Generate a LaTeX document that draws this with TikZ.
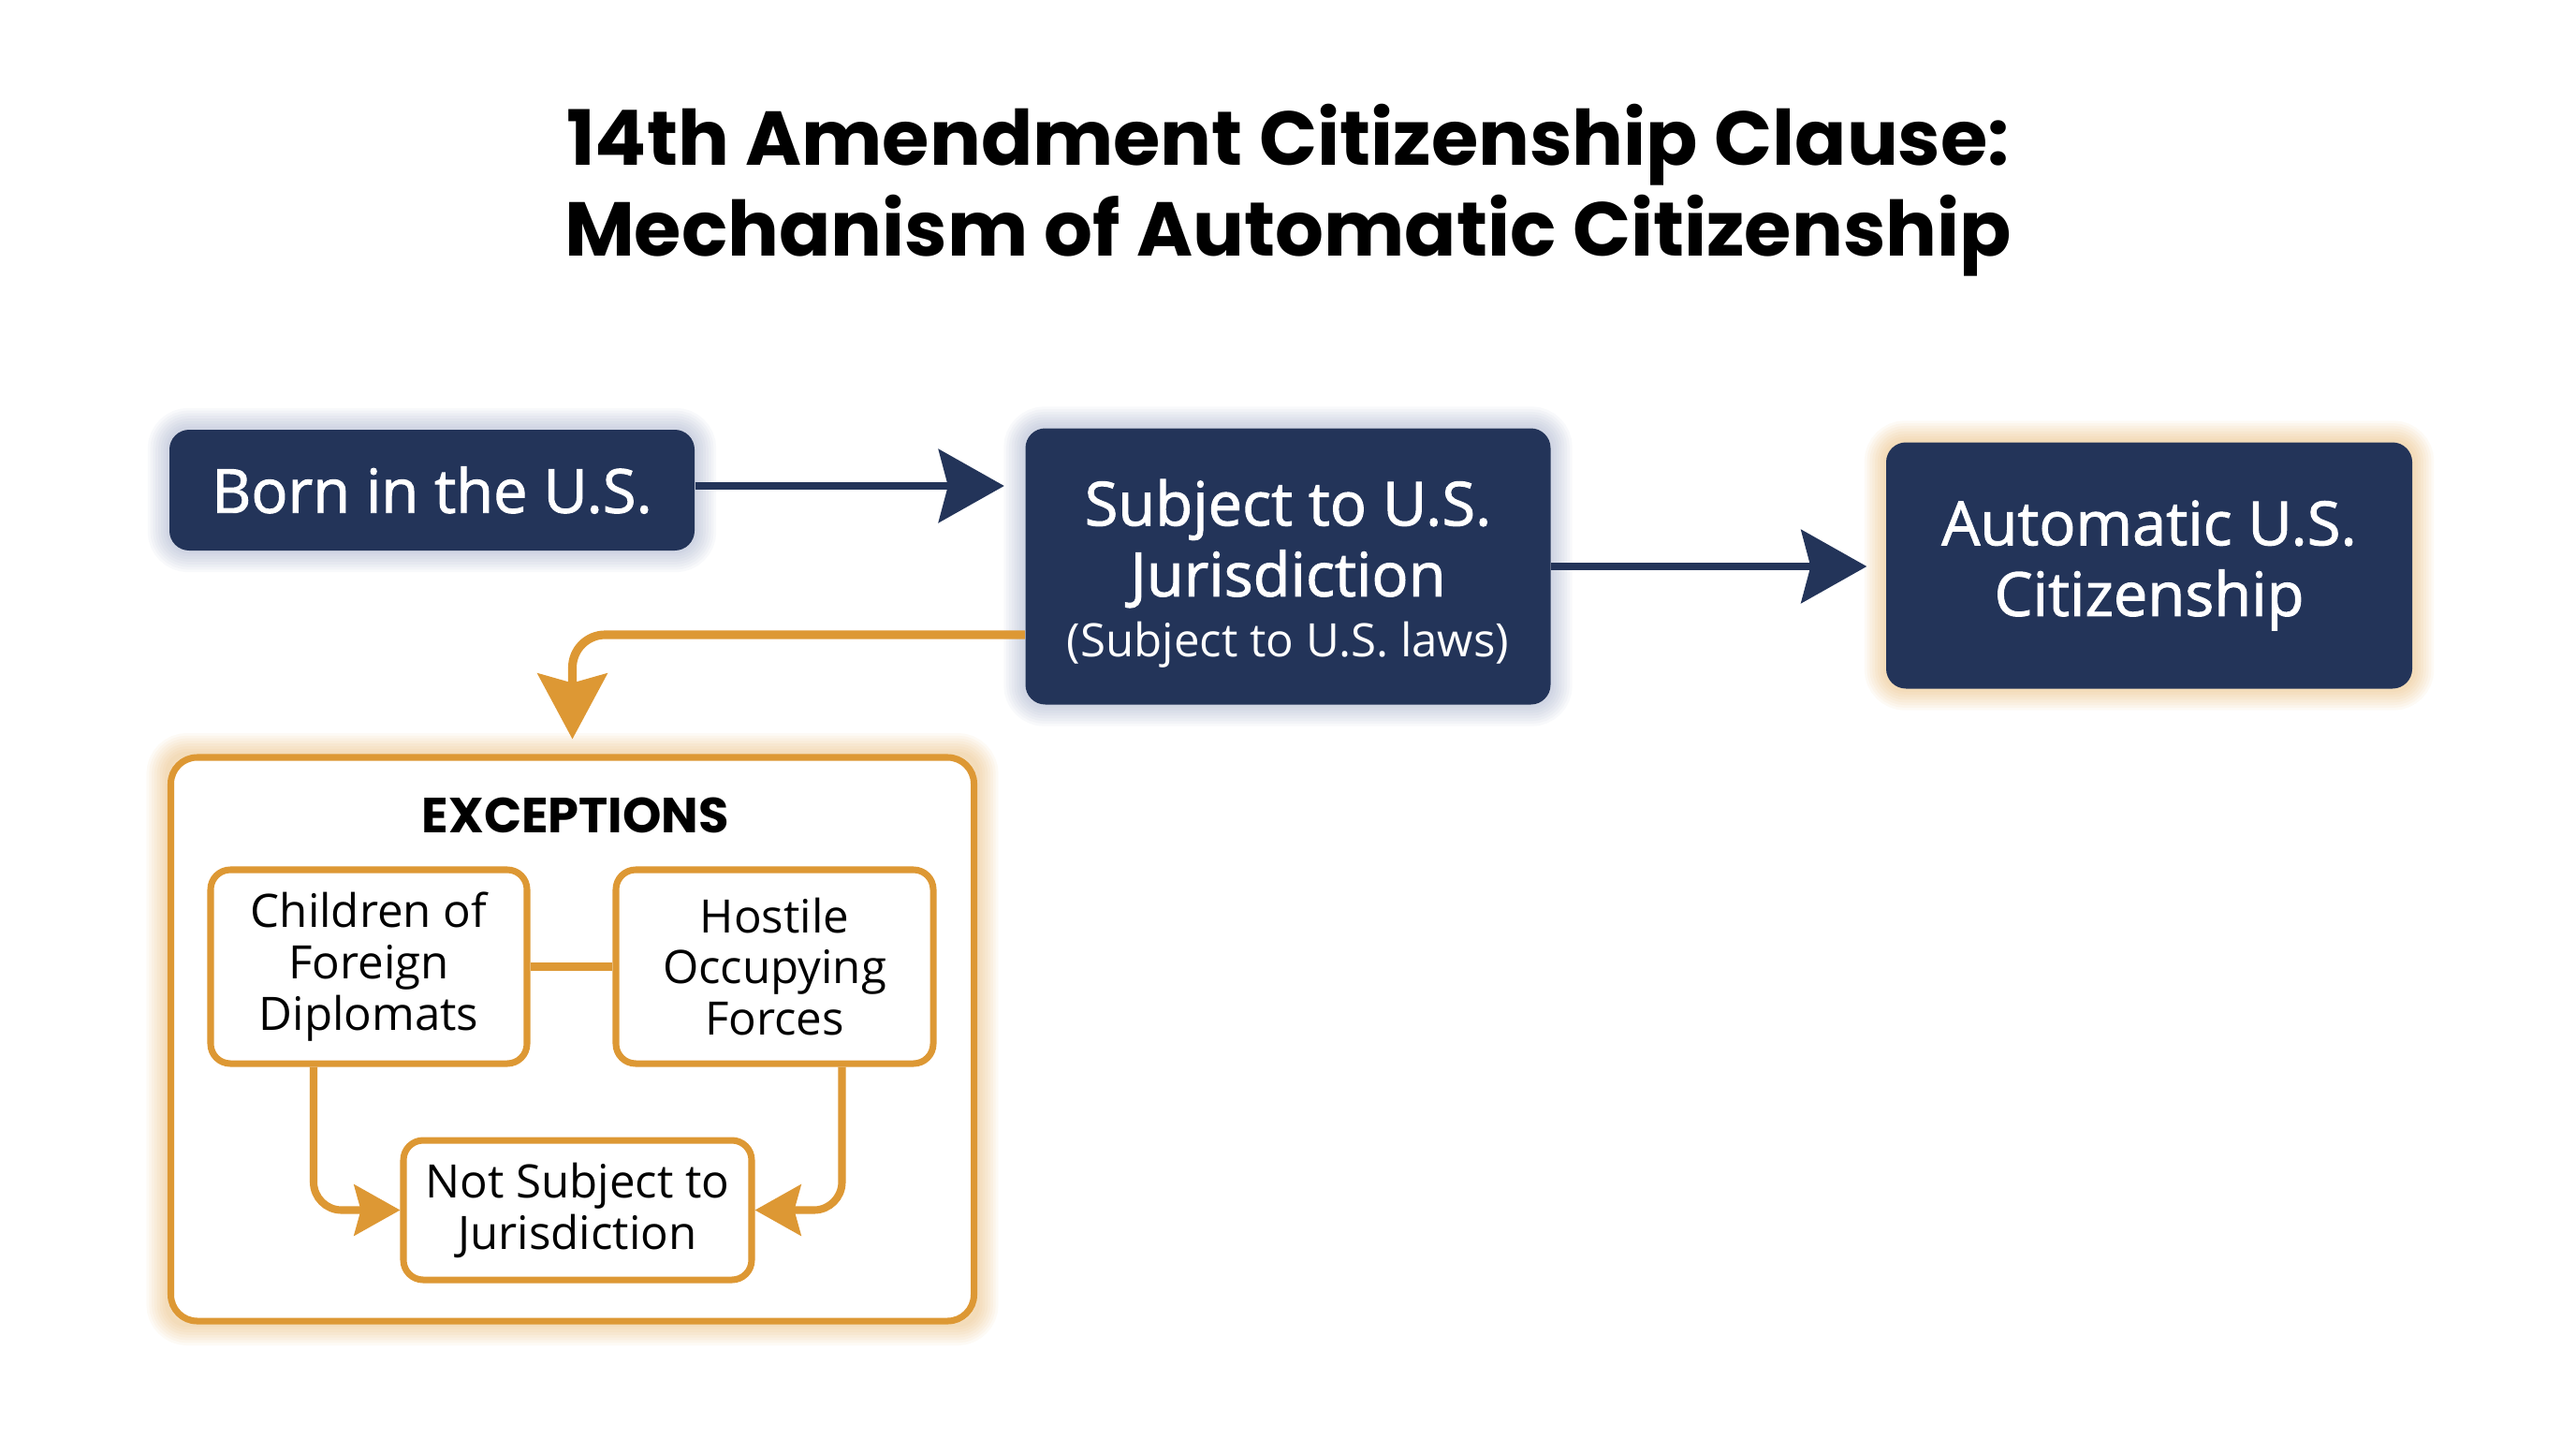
\documentclass[tikz,border=0pt]{standalone}
\usepackage{fontspec}
\setmainfont{Open Sans}
\newfontfamily\semifont{Open Sans}[FakeBold=1.5]
\newfontfamily\titlefont{Poppins}
\usetikzlibrary{arrows.meta,backgrounds,positioning}
\tikzset{>=Stealth}
\definecolor{navy}{RGB}{35,52,89}
\definecolor{amber}{RGB}{221,152,52}
\definecolor{haze}{RGB}{120,135,175}

\tikzset{
  navybox/.style={fill=navy, text=white, rounded corners=6pt, align=center, inner sep=0pt,
    font=\semifont\fontsize{18.5}{21.5}\selectfont},
  ambbox/.style={draw=amber, line width=2pt, fill=white, rounded corners=6pt, align=center,
    inner sep=0pt, font=\fontsize{14}{15.6}\selectfont},
  navyarrow/.style={draw=navy, line width=2.3pt, -{Stealth[length=7mm,width=7.8mm,inset=1mm]}},
  ambarrow/.style={draw=amber, line width=2.6pt, rounded corners=3.5mm,
    -{Stealth[length=7mm,width=7.4mm,inset=1mm]}},
  smallarrow/.style={draw=amber, line width=2.3pt, rounded corners=3mm,
    -{Stealth[length=4.9mm,width=5.4mm,inset=0.7mm]}},
}

% soft glow behind a node: #1 node, #2 colour, #3 shift down
\newcommand{\softglow}[3]{%
  \foreach \g in {1,...,8} {%
    \draw[#2, opacity=0.05, line width=\g*1.6pt, rounded corners=6pt, yshift=#3]
      (#1.south west) rectangle (#1.north east);
  }%
}

\begin{document}
\begin{tikzpicture}
  \useasboundingbox (0,0) rectangle (27.52,-15.36);

  \node[font=\titlefont\bfseries\fontsize{23.2}{27.6}\selectfont, align=center] (title) at (13.76,-2.03)
    {14th Amendment Citizenship Clause:\\Mechanism of Automatic Citizenship};

  % main chain
  \node[navybox, minimum width=5.61cm, minimum height=1.29cm] (born) at (4.615,-5.235) {Born in the U.S.};
  \node[navybox, minimum width=5.61cm, minimum height=2.95cm] (subj) at (13.76,-6.05)
    {\rule{0pt}{0pt}\\[-3pt]Subject to U.S.\\Jurisdiction\\[-3pt]{\normalfont\fontsize{14}{16}\selectfont (Subject to U.S. laws)}};
  \node[navybox, minimum width=5.62cm, minimum height=2.63cm] (auto) at (22.96,-6.04)
    {Automatic U.S.\\Citizenship};

  % exceptions
  \node[ambbox, minimum width=8.58cm, minimum height=6.02cm, rounded corners=8pt] (exc) at (6.115,-11.1) {};
  \node[font=\titlefont\bfseries\fontsize{15}{15.6}\selectfont] (exctitle) at (6.15,-8.71) {EXCEPTIONS};
  \node[ambbox, minimum width=3.38cm, minimum height=2.07cm] (child) at (3.94,-10.325)
    {Children of\\Foreign\\Diplomats};
  \node[ambbox, minimum width=3.39cm, minimum height=2.07cm] (host) at (8.275,-10.325)
    {Hostile\\Occupying\\Forces};
  \node[ambbox, minimum width=3.72cm, minimum height=1.49cm] (notsub) at (6.17,-12.925)
    {Not Subject to\\Jurisdiction};

  % connectors
  \draw[navyarrow, shorten >=2.2mm] ([yshift=0.45mm]born.east) -- ([yshift=0.45mm]subj.west |- born.east);
  \draw[navyarrow, shorten >=2mm] (subj.east) -- (auto.west |- subj.east);
  \draw[ambarrow, shorten >=1.6mm] ([yshift=-7.3mm]subj.west) -| (exc.north);
  \draw[amber, line width=2.3pt] (child.east) -- (host.west);
  \draw[smallarrow] ([xshift=-5.9mm]child.south) |- (notsub.west);
  \draw[smallarrow] ([xshift=7.2mm]host.south) |- (notsub.east);

  \begin{scope}[on background layer]
    \softglow{born}{haze}{-2pt}
    \softglow{subj}{haze}{-2pt}
    \softglow{auto}{amber}{0pt}
    \softglow{exc}{amber}{0pt}
    \softglow{child}{amber}{0pt}
    \softglow{host}{amber}{0pt}
    \softglow{notsub}{amber}{0pt}
  \end{scope}
\end{tikzpicture}
\end{document}
